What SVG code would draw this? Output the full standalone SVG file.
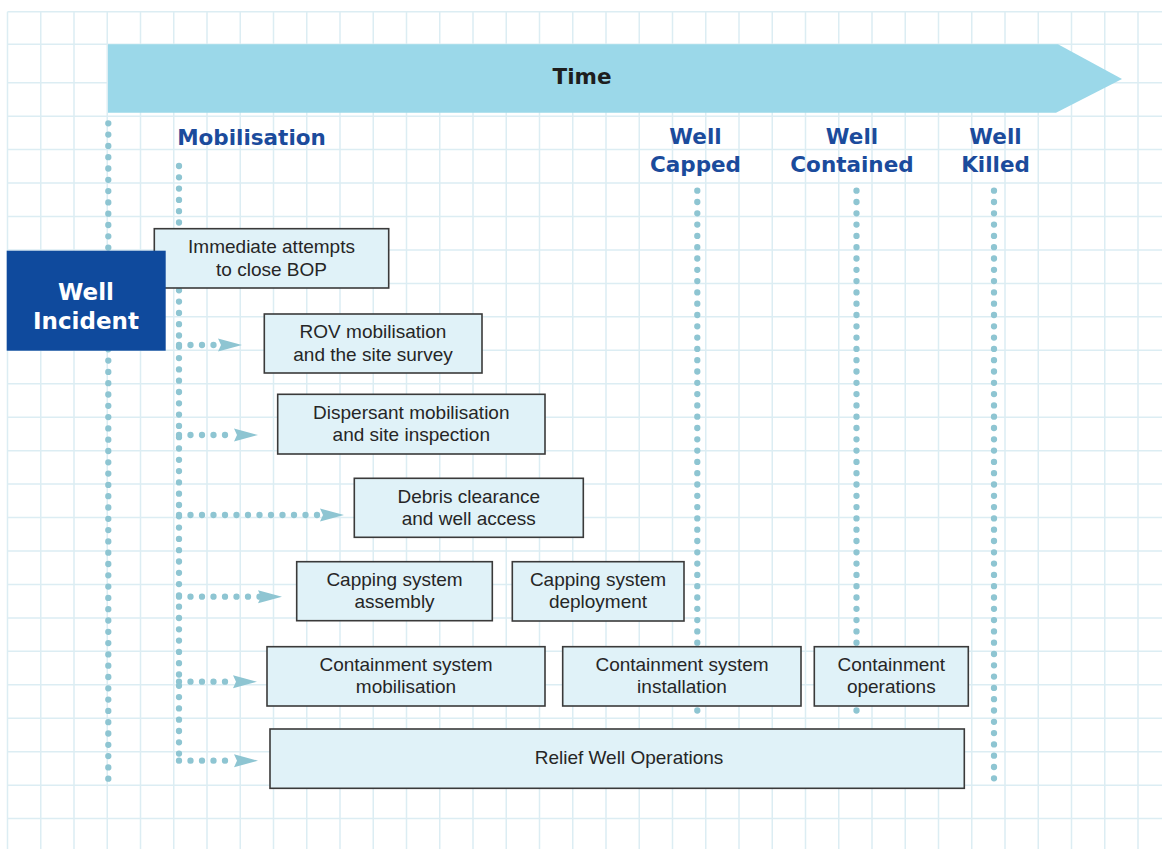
<svg xmlns="http://www.w3.org/2000/svg" width="1162" height="849" viewBox="0 0 1162 849">
<style>
.grid{stroke:#dcedf3;stroke-width:1.5;fill:none}
.dot{stroke:#8ec5d2;stroke-width:6.3;stroke-linecap:round;stroke-dasharray:0 11.3;fill:none}
.hdot{stroke:#8ec5d2;stroke-width:6.3;stroke-linecap:round;stroke-dasharray:0 11.5;fill:none;marker-end:url(#ah)}
.box{fill:#e0f2f8;stroke:#3a3a3a;stroke-width:1.6}
.t{font-family:"Liberation Sans",Arial,sans-serif;font-size:19px;fill:#262626;text-anchor:middle}
.lbl{font-family:"DejaVu Sans","Liberation Sans",sans-serif;font-weight:bold;font-size:21.5px;fill:#1b4b9c;text-anchor:middle}
</style>
<defs>
<marker id="ah" markerUnits="userSpaceOnUse" markerWidth="26" markerHeight="14" refX="2" refY="7" orient="auto" viewBox="0 0 26 14">
<path d="M0,0.5 L24,7 L0,13.5 L3,7 Z" fill="#8ec5d2"/>
</marker>
</defs>
<rect width="1162" height="849" fill="#ffffff"/>
<g id="grid">
<path class="grid" d="M7.5,11.7V849 M40.75,11.7V849 M74,11.7V849 M107.25,11.7V849 M140.5,11.7V849 M173.75,11.7V849 M207,11.7V849 M240.25,11.7V849 M273.5,11.7V849 M306.75,11.7V849 M340,11.7V849 M373.25,11.7V849 M406.5,11.7V849 M439.75,11.7V849 M473,11.7V849 M506.25,11.7V849 M539.5,11.7V849 M572.75,11.7V849 M606,11.7V849 M639.25,11.7V849 M672.5,11.7V849 M705.75,11.7V849 M739,11.7V849 M772.25,11.7V849 M805.5,11.7V849 M838.75,11.7V849 M872,11.7V849 M905.25,11.7V849 M938.5,11.7V849 M971.75,11.7V849 M1005,11.7V849 M1038.25,11.7V849 M1071.5,11.7V849 M1104.75,11.7V849 M1138,11.7V849 M7.5,11.7H1162 M7.5,44.3H1162 M7.5,82.7H1162 M7.5,116.15H1162 M7.5,149.6H1162 M7.5,183.05H1162 M7.5,216.5H1162 M7.5,249.95H1162 M7.5,283.4H1162 M7.5,316.85H1162 M7.5,350.3H1162 M7.5,383.75H1162 M7.5,417.2H1162 M7.5,450.65H1162 M7.5,484.1H1162 M7.5,517.55H1162 M7.5,551H1162 M7.5,584.45H1162 M7.5,617.9H1162 M7.5,651.35H1162 M7.5,684.8H1162 M7.5,718.25H1162 M7.5,751.7H1162 M7.5,785.15H1162 M7.5,818.6H1162"/>
</g>
<g id="time-arrow">
<path d="M108,44.3 L1058,44.3 L1122,79 L1056,112.7 L108,112.7 Z" fill="#9bd8e9"/>
<text x="582" y="84" font-family="DejaVu Sans, Liberation Sans, sans-serif" font-weight="bold" font-size="21.5" fill="#1e1e1e" text-anchor="middle">Time</text>
</g>
<g id="milestones">
<text class="lbl" x="251.5" y="145">Mobilisation</text>
<text class="lbl" x="695.5" y="143.5">Well</text>
<text class="lbl" x="695.5" y="171.7">Capped</text>
<text class="lbl" x="852" y="143.5">Well</text>
<text class="lbl" x="852" y="171.7">Contained</text>
<text class="lbl" x="995.5" y="143.5">Well</text>
<text class="lbl" x="995.5" y="171.7">Killed</text>
</g>
<g id="connectors">
<line class="dot" x1="108.3" y1="123.3" x2="108.3" y2="786.7"/>
<line class="dot" x1="179" y1="166" x2="179" y2="760.7"/>
<line class="dot" x1="697.3" y1="190.7" x2="697.3" y2="720"/>
<line class="dot" x1="856.5" y1="190.7" x2="856.5" y2="720"/>
<line class="dot" x1="994" y1="190.7" x2="994" y2="786.7"/>
<line class="hdot" x1="179" y1="345" x2="220" y2="345"/>
<line class="hdot" x1="179" y1="435" x2="236" y2="435"/>
<line class="hdot" x1="179" y1="515" x2="322" y2="515"/>
<line class="hdot" x1="179" y1="596.7" x2="260" y2="596.7"/>
<line class="hdot" x1="179" y1="681.7" x2="235" y2="681.7"/>
<line class="hdot" x1="179" y1="760.7" x2="236" y2="760.7"/>
</g>
<g id="n-immediate">
<rect class="box" x="154.3" y="228.7" width="234.4" height="59.3"/>
<text class="t" x="271.5" y="253">Immediate attempts</text>
<text class="t" x="271.5" y="276">to close BOP</text>
</g>
<g id="n-well-incident">
<rect x="6.7" y="250.7" width="159" height="100" fill="#0f4a9d"/>
<text x="86" y="300" font-family="DejaVu Sans, Liberation Sans, sans-serif" font-weight="bold" font-size="23" fill="#ffffff" text-anchor="middle">Well</text>
<text x="86" y="329" font-family="DejaVu Sans, Liberation Sans, sans-serif" font-weight="bold" font-size="23" fill="#ffffff" text-anchor="middle">Incident</text>
</g>
<g id="n-rov">
<rect class="box" x="264.3" y="314" width="217.7" height="59"/>
<text class="t" x="373" y="338.3">ROV mobilisation</text>
<text class="t" x="373" y="360.5">and the site survey</text>
</g>
<g id="n-dispersant">
<rect class="box" x="277.7" y="394.3" width="267.3" height="59.7"/>
<text class="t" x="411.3" y="418.7">Dispersant mobilisation</text>
<text class="t" x="411.3" y="441">and site inspection</text>
</g>
<g id="n-debris">
<rect class="box" x="354.3" y="478.3" width="229" height="59"/>
<text class="t" x="468.8" y="502.5">Debris clearance</text>
<text class="t" x="468.8" y="524.8">and well access</text>
</g>
<g id="n-capping-assembly">
<rect class="box" x="296.7" y="561.7" width="195.6" height="59"/>
<text class="t" x="394.5" y="586">Capping system</text>
<text class="t" x="394.5" y="608.3">assembly</text>
</g>
<g id="n-capping-deployment">
<rect class="box" x="512.3" y="561.7" width="171.7" height="59.3"/>
<text class="t" x="598" y="586">Capping system</text>
<text class="t" x="598" y="608.3">deployment</text>
</g>
<g id="n-containment-mobilisation">
<rect class="box" x="267" y="646.7" width="278" height="59.3"/>
<text class="t" x="406" y="671">Containment system</text>
<text class="t" x="406" y="693.3">mobilisation</text>
</g>
<g id="n-containment-installation">
<rect class="box" x="562.7" y="646.7" width="238.3" height="59.3"/>
<text class="t" x="682" y="671">Containment system</text>
<text class="t" x="682" y="693.3">installation</text>
</g>
<g id="n-containment-operations">
<rect class="box" x="814.3" y="646.7" width="154" height="59.3"/>
<text class="t" x="891.3" y="671">Containment</text>
<text class="t" x="891.3" y="693.3">operations</text>
</g>
<g id="n-relief">
<rect class="box" x="270" y="729" width="694.3" height="59.3"/>
<text class="t" x="629" y="764">Relief Well Operations</text>
</g>
</svg>
